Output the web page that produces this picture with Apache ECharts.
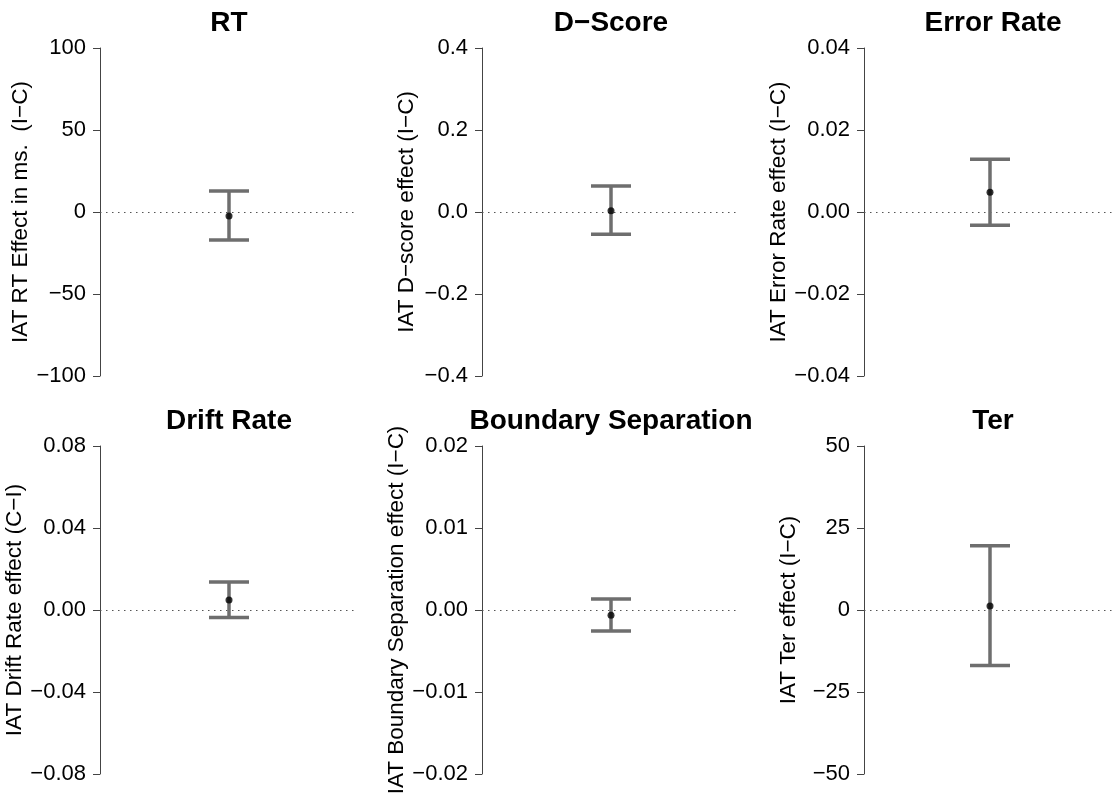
<!DOCTYPE html>
<html>
<head>
<meta charset="utf-8">
<script src="https://cdn.jsdelivr.net/npm/echarts@6/dist/echarts.min.js"></script>
<style>
  html, body { margin: 0; padding: 0; background: #ffffff; }
  #chart { width: 1116px; height: 800px; }
</style>
</head>
<body>
<div id="chart"></div>
<script>
// ---- data ----
const titles = ["RT", "D\u2212Score", "Error Rate", "Drift Rate", "Boundary Separation", "Ter"];
const yNames = [
  "IAT RT Effect in ms.  (I\u2212C)",
  "IAT D\u2212score effect (I\u2212C)",
  "IAT Error Rate effect (I\u2212C)",
  "IAT Drift Rate effect (C\u2212I)",
  "IAT Boundary Separation effect (I\u2212C)",
  "IAT Ter effect (I\u2212C)"
];
const xPos = 1;
const means  = [-2.4, 0.0033, 0.0048, 0.0049, -0.00065, 1.2];
const lowers = [-17.1, -0.0545, -0.00325, -0.0036, -0.00256, -16.9];
const uppers = [12.8, 0.0634, 0.01285, 0.0136, 0.00134, 19.6];
const yMins  = [-100, -0.4, -0.04, -0.08, -0.02, -50];
const yMaxs  = [100, 0.4, 0.04, 0.08, 0.02, 50];
const yIntervals = [50, 0.2, 0.02, 0.04, 0.01, 25];
const tickLabels = [
  ["\u2212100", "\u221250", "0", "50", "100"],
  ["\u22120.4", "\u22120.2", "0.0", "0.2", "0.4"],
  ["\u22120.04", "\u22120.02", "0.00", "0.02", "0.04"],
  ["\u22120.08", "\u22120.04", "0.00", "0.04", "0.08"],
  ["\u22120.02", "\u22120.01", "0.00", "0.01", "0.02"],
  ["\u221250", "\u221225", "0", "25", "50"]
];

// ---- layout (pixels) ----
const gridLefts = [100, 482, 864, 100, 482, 864];
const gridTops  = [48, 48, 48, 446, 446, 446];
const gridW = 258, gridH = 328;
const titleTops = [9, 9, 9, 407, 407, 407];
const FONT = "'Liberation Sans', Arial, Helvetica, sans-serif";
const barColor = '#6e6e6e';

const grids = [], xAxes = [], yAxes = [], series = [], titleOpts = [];
for (let i = 0; i < 6; i++) {
  grids.push({ left: gridLefts[i], top: gridTops[i], width: gridW, height: gridH, containLabel: false });
  titleOpts.push({
    text: titles[i], left: gridLefts[i] + gridW / 2, top: titleTops[i], textAlign: 'center', padding: 0,
    textStyle: { fontFamily: FONT, fontSize: 28, fontWeight: 'bold', color: '#000' }
  });
  xAxes.push({ gridIndex: i, type: 'value', min: 0, max: 2, show: false });
  const labels = tickLabels[i], mn = yMins[i], iv = yIntervals[i];
  yAxes.push({
    gridIndex: i, type: 'value', min: yMins[i], max: yMaxs[i], interval: yIntervals[i],
    name: yNames[i], nameLocation: 'middle', nameGap: 64,
    nameTextStyle: { fontFamily: FONT, fontSize: 22.5, color: '#000' },
    axisLine: { show: true, lineStyle: { color: '#444', width: 1 } },
    axisTick: { show: true, length: 7, lineStyle: { color: '#444', width: 1 } },
    axisLabel: {
      fontFamily: FONT, fontSize: 22, color: '#000', margin: 14,
      formatter: function (v) { const k = Math.round((v - mn) / iv); return labels[k] !== undefined ? labels[k] : ''; }
    },
    splitLine: { show: false }
  });
  series.push({
    type: 'custom', xAxisIndex: i, yAxisIndex: i, z: 2,
    data: [[xPos, lowers[i], uppers[i]]],
    renderItem: function (params, api) {
      const x = api.value(0);
      const pLo = api.coord([x, api.value(1)]);
      const pHi = api.coord([x, api.value(2)]);
      const hw = 20;
      const st = { stroke: barColor, lineWidth: 3.5, lineCap: 'butt' };
      return {
        type: 'group', children: [
          { type: 'line', shape: { x1: pLo[0], y1: pLo[1], x2: pHi[0], y2: pHi[1] }, style: st },
          { type: 'line', shape: { x1: pLo[0] - hw, y1: pLo[1], x2: pLo[0] + hw, y2: pLo[1] }, style: st },
          { type: 'line', shape: { x1: pHi[0] - hw, y1: pHi[1], x2: pHi[0] + hw, y2: pHi[1] }, style: st }
        ]
      };
    }
  });
  series.push({
    type: 'scatter', xAxisIndex: i, yAxisIndex: i, z: 3,
    data: [[xPos, means[i]]], symbol: 'circle', symbolSize: 7,
    itemStyle: { color: '#000' },
    markLine: {
      silent: true, symbol: 'none', label: { show: false }, z: 1,
      lineStyle: { color: '#555', type: [1.5, 4.5], width: 1 },
      data: [{ yAxis: 0 }]
    }
  });
}

const chart = echarts.init(document.getElementById('chart'), null, { renderer: 'canvas' });
chart.setOption({
  animation: false,
  backgroundColor: '#ffffff',
  title: titleOpts,
  grid: grids,
  xAxis: xAxes,
  yAxis: yAxes,
  series: series
});
</script>
</body>
</html>
